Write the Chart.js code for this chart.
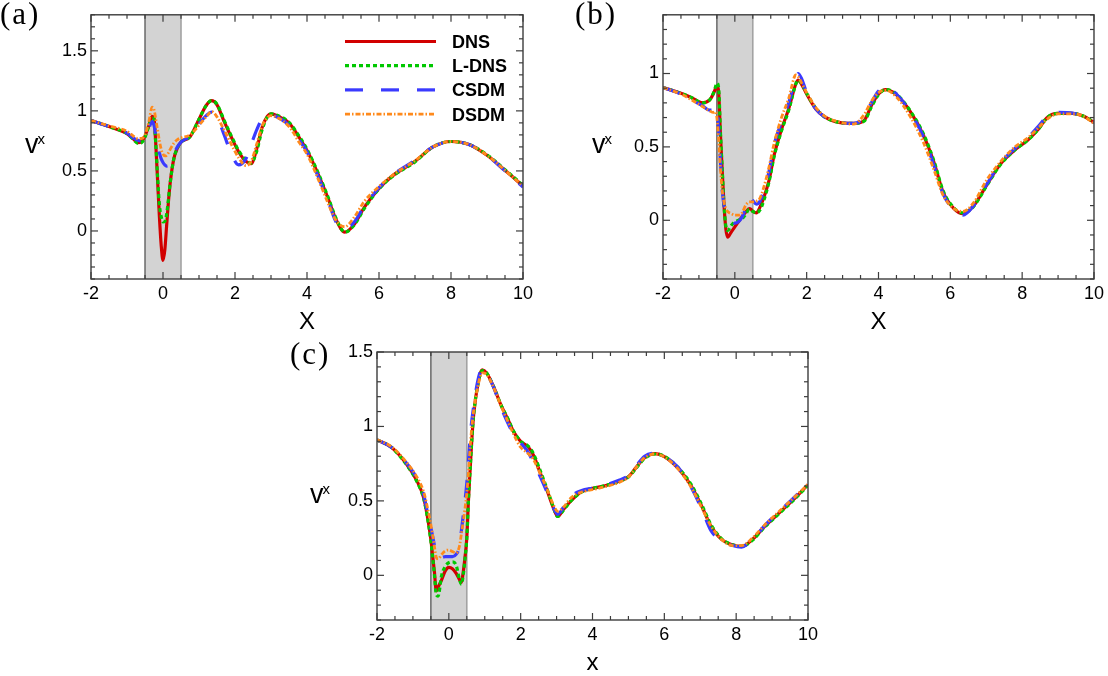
<!DOCTYPE html>
<html>
<head>
<meta charset="utf-8">
<script src="https://cdn.jsdelivr.net/npm/chart.js@4.4.1/dist/chart.umd.min.js"></script>
<style>
html,body{margin:0;padding:0;background:#fff;}
#wrap{position:relative;width:1108px;height:676px;overflow:hidden;background:#fff;}
canvas{position:absolute;}
</style>
</head>
<body>
<div id="wrap">
<canvas id="ca" width="545" height="340" style="left:0px;top:0px"></canvas>
<canvas id="cb" width="548" height="340" style="left:560px;top:0px"></canvas>
<canvas id="cc" width="560" height="341" style="left:270px;top:335px"></canvas>
</div>
<script>
// ---------------- data ----------------
const seriesNames = ['DNS', 'L-DNS', 'CSDM', 'DSDM'];
const shadeRange = [-0.5, 0.5];
const xTickValues = [-2, 0, 2, 4, 6, 8, 10];
const yTicksA = [0, 0.5, 1, 1.5];
const yTicksB = [0, 0.5, 1];
const yTicksC = [0, 0.5, 1, 1.5];

// panel (a)
const xA = [-2, -1.5, -1, -0.8, -0.7, -0.6, -0.5, -0.4, -0.3, -0.25,
  -0.2, -0.15, -0.1, -0.05, 0, 0.05, 0.1, 0.15, 0.2, 0.3,
  0.4, 0.5, 0.75, 1.0, 1.2, 1.35, 1.5, 1.7, 1.9, 2.1,
  2.3, 2.45, 2.6, 2.75, 2.9, 3.0, 3.2, 3.5, 3.8, 4.0,
  4.3, 4.6, 4.8, 5.05, 5.3, 5.6, 6.0, 6.4, 7.0, 7.5,
  8.0, 8.5, 9.0, 9.5, 10];
const dnsA = [0.92, 0.87, 0.81, 0.76, 0.735, 0.745, 0.79, 0.87, 0.955, 0.94,
  0.72, 0.42, 0.12, -0.12, -0.245, -0.16, 0.04, 0.24, 0.4, 0.6,
  0.69, 0.74, 0.785, 0.93, 1.045, 1.085, 1.05, 0.91, 0.78, 0.66,
  0.58, 0.56, 0.68, 0.86, 0.955, 0.975, 0.955, 0.9, 0.77, 0.67,
  0.48, 0.26, 0.1, -0.01, 0.05, 0.2, 0.355, 0.465, 0.58, 0.7,
  0.745, 0.72, 0.63, 0.505, 0.375];
const ldnsA = [0.92, 0.87, 0.81, 0.755, 0.73, 0.735, 0.78, 0.87, 0.94, 0.93,
  0.72, 0.45, 0.22, 0.12, 0.075, 0.08, 0.14, 0.26, 0.4, 0.6,
  0.69, 0.74, 0.785, 0.93, 1.045, 1.085, 1.055, 0.92, 0.79, 0.67,
  0.59, 0.565, 0.66, 0.84, 0.95, 0.975, 0.96, 0.905, 0.78, 0.68,
  0.49, 0.27, 0.11, -0.01, 0.045, 0.19, 0.35, 0.46, 0.575, 0.7,
  0.745, 0.72, 0.635, 0.51, 0.38];
const csdmA = [0.92, 0.87, 0.815, 0.77, 0.755, 0.75, 0.78, 0.85, 0.91, 0.88,
  0.8, 0.72, 0.65, 0.6, 0.57, 0.55, 0.54, 0.545, 0.575, 0.64,
  0.7, 0.74, 0.79, 0.89, 0.96, 0.99, 0.95, 0.8, 0.64, 0.55,
  0.6, 0.72, 0.84, 0.93, 0.96, 0.965, 0.945, 0.88, 0.75, 0.66,
  0.46, 0.24, 0.08, 0.02, 0.07, 0.21, 0.36, 0.47, 0.59, 0.7,
  0.745, 0.72, 0.63, 0.5, 0.365];
const dsdmA = [0.92, 0.875, 0.83, 0.785, 0.77, 0.77, 0.8, 0.9, 1.03, 1.01,
  0.93, 0.84, 0.75, 0.68, 0.64, 0.625, 0.63, 0.65, 0.68, 0.73,
  0.76, 0.775, 0.8, 0.88, 0.95, 0.995, 0.95, 0.84, 0.72, 0.61,
  0.545, 0.58, 0.72, 0.87, 0.945, 0.96, 0.94, 0.87, 0.73, 0.64,
  0.44, 0.22, 0.09, 0.035, 0.11, 0.25, 0.37, 0.47, 0.585, 0.7,
  0.745, 0.72, 0.63, 0.505, 0.375];

// panel (b)
const xB = [-2, -1.5, -1.2, -0.9, -0.7, -0.6, -0.55, -0.5, -0.45, -0.4,
  -0.35, -0.3, -0.25, -0.2, -0.1, 0, 0.1, 0.2, 0.3, 0.4,
  0.45, 0.5, 0.6, 0.7, 0.8, 0.95, 1.1, 1.3, 1.5, 1.7,
  1.76, 1.85, 2.0, 2.25, 2.5, 2.9, 3.3, 3.6, 3.8, 4.0,
  4.2, 4.5, 4.9, 5.25, 5.55, 5.8, 6.1, 6.35, 6.65, 7.0,
  7.4, 7.8, 8.15, 8.45, 8.7, 9.0, 9.4, 9.7, 10];
const dnsB = [0.905, 0.865, 0.835, 0.8, 0.82, 0.86, 0.89, 0.915, 0.87, 0.58,
  0.33, 0.1, -0.06, -0.115, -0.08, -0.045, -0.01, 0.025, 0.055, 0.08,
  0.075, 0.062, 0.05, 0.09, 0.15, 0.27, 0.45, 0.62, 0.76, 0.93,
  0.955, 0.93, 0.86, 0.76, 0.705, 0.667, 0.66, 0.68, 0.78, 0.86,
  0.89, 0.855, 0.735, 0.58, 0.39, 0.19, 0.08, 0.045, 0.1, 0.235,
  0.385, 0.48, 0.545, 0.62, 0.7, 0.728, 0.728, 0.71, 0.667];
const ldnsB = [0.905, 0.865, 0.835, 0.8, 0.82, 0.865, 0.9, 0.935, 0.9, 0.6,
  0.34, 0.1, -0.04, -0.07, -0.035, -0.01, 0.0, 0.01, 0.04, 0.075,
  0.07, 0.06, 0.05, 0.07, 0.13, 0.26, 0.44, 0.61, 0.75, 0.93,
  0.955, 0.935, 0.865, 0.765, 0.705, 0.667, 0.66, 0.675, 0.77, 0.855,
  0.89, 0.86, 0.74, 0.59, 0.4, 0.2, 0.085, 0.05, 0.095, 0.23,
  0.38, 0.48, 0.545, 0.62, 0.7, 0.728, 0.728, 0.71, 0.667];
const csdmB = [0.905, 0.86, 0.82, 0.78, 0.75, 0.75, 0.765, 0.775, 0.62, 0.4,
  0.2, 0.1, 0.07, 0.05, 0.0, -0.02, -0.01, 0.02, 0.08, 0.15,
  0.155, 0.135, 0.11, 0.13, 0.2, 0.33, 0.52, 0.67, 0.8, 0.97,
  1.0, 0.97, 0.87, 0.76, 0.705, 0.665, 0.66, 0.7, 0.8, 0.88,
  0.91, 0.86, 0.73, 0.57, 0.37, 0.18, 0.07, 0.035, 0.1, 0.24,
  0.39, 0.49, 0.56, 0.64, 0.71, 0.735, 0.73, 0.71, 0.665];
const dsdmB = [0.905, 0.86, 0.82, 0.775, 0.745, 0.735, 0.74, 0.7, 0.55, 0.35,
  0.2, 0.12, 0.08, 0.06, 0.045, 0.035, 0.035, 0.05, 0.1, 0.125,
  0.125, 0.125, 0.13, 0.15, 0.22, 0.36, 0.53, 0.7, 0.83, 0.99,
  0.98, 0.94, 0.87, 0.77, 0.71, 0.67, 0.655, 0.72, 0.81, 0.87,
  0.885, 0.84, 0.7, 0.53, 0.34, 0.17, 0.08, 0.06, 0.12, 0.27,
  0.4, 0.5, 0.56, 0.63, 0.69, 0.725, 0.725, 0.71, 0.66];

// panel (c)
const xC = [-2, -1.6, -1.2, -0.9, -0.7, -0.6, -0.5, -0.45, -0.4, -0.35,
  -0.3, -0.2, -0.1, 0, 0.1, 0.2, 0.3, 0.35, 0.4, 0.45,
  0.5, 0.55, 0.6, 0.65, 0.7, 0.8, 0.93, 1.05, 1.25, 1.45,
  1.65, 1.8, 2.0, 2.2, 2.35, 2.55, 2.75, 2.9, 3.03, 3.2,
  3.4, 3.7, 4.0, 4.35, 4.7, 5.0, 5.2, 5.45, 5.75, 6.0,
  6.4, 6.75, 7.05, 7.3, 7.6, 7.9, 8.15, 8.45, 8.8, 9.2,
  9.6, 10];
const dnsC = [0.91, 0.86, 0.755, 0.64, 0.52, 0.4, 0.24, 0.13, 0.02, -0.105,
  -0.08, -0.03, 0.03, 0.054, 0.045, 0.015, -0.03, -0.047, 0.02, 0.12,
  0.25, 0.52, 0.74, 0.95, 1.1, 1.27, 1.38, 1.36, 1.265, 1.145,
  1.045, 0.965, 0.9, 0.865, 0.81, 0.685, 0.56, 0.46, 0.396, 0.445,
  0.5, 0.562, 0.584, 0.602, 0.629, 0.662, 0.72, 0.79, 0.818, 0.798,
  0.715, 0.6, 0.46, 0.33, 0.24, 0.205, 0.194, 0.24, 0.33, 0.42,
  0.51, 0.61];
const ldnsC = [0.91, 0.86, 0.75, 0.635, 0.515, 0.395, 0.23, 0.12, 0.0, -0.13,
  -0.14, 0.0, 0.06, 0.085, 0.09, 0.07, -0.03, -0.06, 0.0, 0.11,
  0.25, 0.52, 0.74, 0.95, 1.1, 1.27, 1.375, 1.36, 1.265, 1.145,
  1.05, 0.97, 0.9, 0.87, 0.82, 0.7, 0.57, 0.465, 0.395, 0.44,
  0.5, 0.56, 0.584, 0.602, 0.629, 0.66, 0.715, 0.785, 0.815, 0.8,
  0.72, 0.61, 0.47, 0.34, 0.245, 0.205, 0.194, 0.235, 0.325, 0.415,
  0.505, 0.605];
const csdmC = [0.91, 0.86, 0.76, 0.655, 0.54, 0.43, 0.32, 0.26, 0.2, 0.14,
  0.12, 0.12, 0.125, 0.125, 0.125, 0.14, 0.2, 0.3, 0.4, 0.5,
  0.62, 0.78, 0.95, 1.06, 1.15, 1.3, 1.39, 1.36, 1.26, 1.13,
  1.02, 0.95, 0.89, 0.83, 0.76, 0.66, 0.55, 0.46, 0.41, 0.46,
  0.53, 0.57, 0.585, 0.605, 0.635, 0.67, 0.73, 0.8, 0.82, 0.8,
  0.72, 0.59, 0.44, 0.3, 0.23, 0.2, 0.19, 0.24, 0.335, 0.43,
  0.52, 0.62];
const dsdmC = [0.91, 0.865, 0.765, 0.665, 0.56, 0.46, 0.34, 0.27, 0.19, 0.12,
  0.11, 0.14, 0.165, 0.17, 0.16, 0.15, 0.2, 0.28, 0.36, 0.45,
  0.55, 0.7, 0.88, 1.02, 1.12, 1.26, 1.36, 1.35, 1.26, 1.14,
  1.03, 0.95, 0.86, 0.82, 0.78, 0.68, 0.57, 0.48, 0.43, 0.46,
  0.52, 0.56, 0.575, 0.595, 0.62, 0.66, 0.72, 0.79, 0.815, 0.795,
  0.71, 0.59, 0.45, 0.33, 0.24, 0.2, 0.2, 0.25, 0.34, 0.43,
  0.52, 0.61];

// ---------------- styles ----------------
const lineStyles = [
  {color: '#d20000', dash: [], width: 3.2, order: 4},
  {color: '#00c800', dash: [4, 3], width: 3.2, order: 3},
  {color: '#3a3aff', dash: [18, 18], width: 3.2, order: 2},
  {color: '#ff8a1c', dash: [5, 2, 1.5, 2], width: 2.8, order: 1}
];
const SANS = '"Liberation Sans", Arial, Helvetica, sans-serif';
const SERIF = '"Liberation Serif", "DejaVu Serif", serif';

const decor = {
  id: 'decor',
  beforeDatasetsDraw(chart, args, o) {
    const {ctx, chartArea: A} = chart;
    const sx = chart.scales.x;
    const x0 = sx.getPixelForValue(shadeRange[0]);
    const x1 = sx.getPixelForValue(shadeRange[1]);
    ctx.save();
    ctx.fillStyle = '#d3d3d3';
    ctx.fillRect(x0, A.top, x1 - x0, A.bottom - A.top);
    ctx.lineWidth = 1.3; ctx.strokeStyle = '#555';
    ctx.beginPath(); ctx.moveTo(x0, A.top); ctx.lineTo(x0, A.bottom); ctx.stroke();
    ctx.lineWidth = 1.6; ctx.strokeStyle = '#a3a3a3';
    ctx.beginPath(); ctx.moveTo(x1, A.top); ctx.lineTo(x1, A.bottom); ctx.stroke();
    ctx.restore();
  },
  afterDatasetsDraw(chart, args, o) {
    const {ctx, chartArea: A} = chart;
    const sx = chart.scales.x, sy = chart.scales.y;
    ctx.save();
    ctx.strokeStyle = '#3c3c3c';
    ctx.lineWidth = 1.4;
    ctx.strokeRect(A.left, A.top, A.right - A.left, A.bottom - A.top);
    ctx.lineWidth = 1.2;
    const seg = (x1, y1, x2, y2) => { ctx.beginPath(); ctx.moveTo(x1, y1); ctx.lineTo(x2, y2); ctx.stroke(); };
    const MAJ = 7, MIN = 4;
    const xMinor = 0.5;
    for (let k = Math.ceil(sx.min / xMinor - 1e-9); k * xMinor <= sx.max + 1e-9; k++) {
      const v = k * xMinor;
      const p = sx.getPixelForValue(v);
      const major = xTickValues.some(t => Math.abs(t - v) < 1e-9);
      const L = major ? MAJ : MIN;
      seg(p, A.bottom, p, A.bottom - L);
      seg(p, A.top, p, A.top + L);
    }
    const yMinor = 0.1;
    const yMaj = o.yTicks;
    for (let k = Math.ceil(sy.min / yMinor - 1e-9); k * yMinor <= sy.max + 1e-9; k++) {
      const v = k * yMinor;
      const p = sy.getPixelForValue(v);
      const major = yMaj.some(t => Math.abs(t - v) < 1e-9);
      const L = major ? MAJ : MIN;
      seg(A.left, p, A.left + L, p);
      seg(A.right, p, A.right - L, p);
    }
    ctx.restore();
  },
  afterDraw(chart, args, o) {
    const {ctx, chartArea: A} = chart;
    ctx.save();
    ctx.fillStyle = '#000';
    ctx.font = '31px ' + SERIF;
    ctx.textAlign = 'left'; ctx.textBaseline = 'alphabetic';
    try { ctx.letterSpacing = '2px'; } catch (e) {}
    ctx.fillText(o.panel, o.panelX, o.panelY);
    try { ctx.letterSpacing = '0px'; } catch (e) {}
    ctx.font = '27px ' + SANS;
    ctx.fillText('v', o.vX, o.vY);
    const w = ctx.measureText('v').width;
    ctx.font = '15px ' + SANS;
    ctx.fillText('x', o.vX + w - 1, o.vY - 9);
    ctx.textAlign = 'center'; ctx.textBaseline = 'middle';
    ctx.font = o.xTitleSize + 'px ' + SANS;
    ctx.fillText(o.xTitle, (A.left + A.right) / 2, o.xTitleY);
    if (o.legend) {
      const L = o.legend;
      chart.data.datasets.forEach((ds, i) => {
        const y = L.y + i * L.dy;
        ctx.save();
        ctx.strokeStyle = ds.borderColor;
        ctx.lineWidth = ds.borderWidth;
        ctx.setLineDash(ds.borderDash || []);
        ctx.beginPath(); ctx.moveTo(L.x, y); ctx.lineTo(L.x + L.len, y); ctx.stroke();
        ctx.restore();
        ctx.font = 'bold 18px ' + SANS;
        ctx.textAlign = 'left'; ctx.textBaseline = 'alphabetic';
        ctx.fillText(ds.label, L.textX, y + 6.5);
      });
    }
    ctx.restore();
  }
};
Chart.register(decor);

function makePanel(id, xs, seriesList, yMin, yMax, yTicks, yW, xH, pad, deco) {
  const datasets = seriesList.map((ys, i) => ({
    label: seriesNames[i],
    data: xs.map((x, j) => ({x: x, y: ys[j]})),
    borderColor: lineStyles[i].color,
    backgroundColor: lineStyles[i].color,
    borderDash: lineStyles[i].dash,
    borderWidth: lineStyles[i].width,
    order: lineStyles[i].order,
    pointRadius: 0,
    fill: false,
    cubicInterpolationMode: 'monotone'
  }));
  deco.yTicks = yTicks;
  return new Chart(document.getElementById(id), {
    type: 'line',
    data: {datasets},
    options: {
      responsive: false,
      animation: false,
      devicePixelRatio: 1,
      layout: {padding: pad},
      plugins: {legend: {display: false}, tooltip: {enabled: false}, decor: deco},
      scales: {
        x: {
          type: 'linear', min: -2, max: 10,
          grid: {display: false, drawTicks: false},
          border: {display: false},
          afterBuildTicks: s => { s.ticks = xTickValues.map(v => ({value: v})); },
          afterFit: s => { s.height = xH; },
          ticks: {color: '#000', padding: 4, maxRotation: 0, autoSkip: false,
                  font: {family: SANS, size: 18}, callback: v => String(v)}
        },
        y: {
          type: 'linear', min: yMin, max: yMax,
          grid: {display: false, drawTicks: false},
          border: {display: false},
          afterBuildTicks: s => { s.ticks = yTicks.map(v => ({value: v})); },
          afterFit: s => { s.width = yW; },
          ticks: {color: '#000', padding: 4, autoSkip: false,
                  font: {family: SANS, size: 18}, callback: v => String(v)}
        }
      }
    }
  });
}

makePanel('ca', xA, [dnsA, ldnsA, csdmA, dsdmA], -0.4, 1.8, yTicksA, 91, 61,
  {left: 0, right: 22, top: 12, bottom: 0},
  {panel: '(a)', panelX: 0, panelY: 24, vX: 25, vY: 153, xTitle: 'X', xTitleSize: 24, xTitleY: 322,
   legend: {x: 345, y: 41.5, dy: 24.2, len: 91, textX: 452}});
makePanel('cb', xB, [dnsB, ldnsB, csdmB, dsdmB], -0.4, 1.4, yTicksB, 103, 61,
  {left: 0, right: 13, top: 12, bottom: 0},
  {panel: '(b)', panelX: 15, panelY: 24, vX: 32, vY: 153, xTitle: 'X', xTitleSize: 24, xTitleY: 322});
makePanel('cc', xC, [dnsC, ldnsC, csdmC, dsdmC], -0.3, 1.5, yTicksC, 107, 56,
  {left: 0, right: 22, top: 17, bottom: 0},
  {panel: '(c)', panelX: 20, panelY: 29, vX: 40, vY: 168, xTitle: 'x', xTitleSize: 24, xTitleY: 328});
</script>
</body>
</html>
